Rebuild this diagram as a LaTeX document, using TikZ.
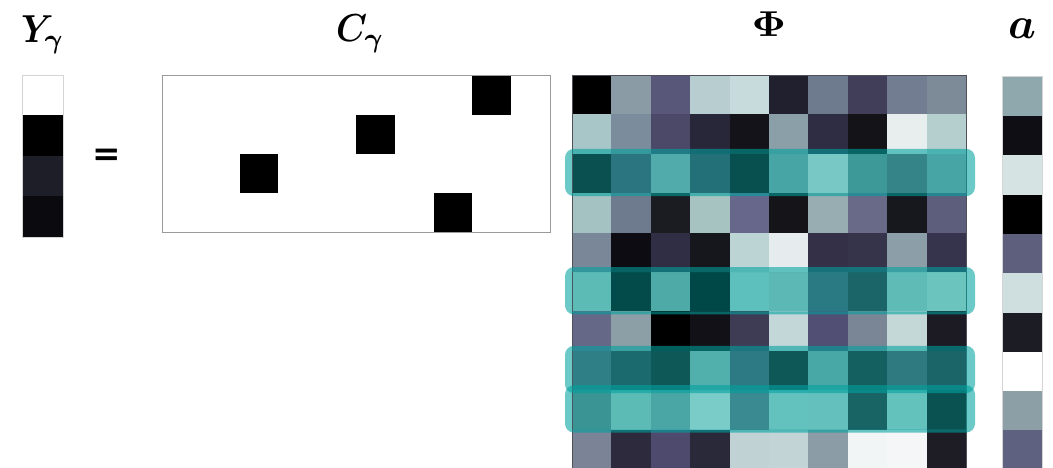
\documentclass[tikz,border=0pt]{standalone}
\usepackage{amsmath,bm}
\usepackage[no-math]{fontspec}
\newfontfamily\eqfont{DejaVu Sans}
\definecolor{hl}{HTML}{00A29F}
\definecolor{phiframe}{HTML}{505058}
\definecolor{vecframe}{HTML}{D4D4D4}
\definecolor{cframe}{HTML}{9A9A9A}
\tikzset{
  lbl/.style={inner sep=0pt, outer sep=0pt},
  hlband/.style={fill=hl, fill opacity=0.58, even odd rule},
}
\begin{document}
\begin{tikzpicture}[x=1pt,y=-1pt]
\useasboundingbox (0,0) rectangle (1053,468);
\fill[white] (0,0) rectangle (1053,468);

% ---- labels ----
\node[lbl, anchor=base west] (ylab) at (21,43) {\scalebox{3.5}[3.9]{$\bm{Y}_{\bm{\gamma}}$}};
\node[lbl, anchor=base west] (clab) at (336,42) {\scalebox{3.5}[3.9]{$\bm{C}_{\bm{\gamma}}$}};
\node[lbl, anchor=base] (philab) at (769,37) {\scalebox{4.1}[3.6]{$\mathbf{\Phi}$}};
\node[lbl, anchor=base] (alab) at (1022,39) {\scalebox{4.4}{$\bm{a}$}};
\node[lbl, font=\eqfont\bfseries\fontsize{34}{34}\selectfont] (eq) at (107,157) {=};

% ---- Y vector ----
\foreach \hx [count=\k from 0] in {FFFFFF,000000,1E1E28,0B0B0F} {
  \definecolor{cc}{HTML}{\hx}
  \fill[cc] (22,{75+\k*40.5}) rectangle (63,{75+(\k+1)*40.5+0.3});
}
\draw[vecframe, line width=0.8pt] (22,75) rectangle (63,237);

% ---- C matrix ----
\draw[cframe, line width=1pt] (162,76) rectangle (550,232);
\foreach \cx/\cy in {2/2,5/1,8/0,7/3} {
  \fill[black] ({162+\cx*38.8},{76+\cy*39}) rectangle ++(38.8,39);
}

% ---- Phi matrix ----
\foreach \rowlist [count=\r from 0] in {
 {000000,8A9BA5,58577A,B8CDD0,C7DADC,21202E,6E7A8E,403E58,737D92,7D8B98},
 {A8C6C7,7B8D9C,4B4868,28273A,131319,8A9FA8,2F2D44,131318,E8EEEE,B5CFCE},
 {0A5050,2A7580,50ABAA,247078,085050,48A5A5,78C8C5,3D9898,358488,48A5A5},
 {A5C2C3,6E7A8E,1B1B22,A6C3C2,66678A,141419,98ADB2,686A88,17171E,5C5E7C},
 {7A8799,0C0C12,302E44,16161D,BCD4D4,E6ECED,333048,36344A,8C9EA8,36344C},
 {5CBBB5,034B4B,4EAAA6,004848,5EC0BC,5CB8B4,2A7A84,1B6468,5EBBB5,6CC4BE},
 {656886,8C9EA6,000000,111117,3E3C54,C3D6D8,514F73,7A8696,C5D8D8,1C1B24},
 {2F8086,1B6A6E,0E5858,52B0AC,2D7A84,0E5858,48A8A6,146060,2E7A80,1B6468},
 {3A9494,5CBCB5,4AA6A4,7ACCC8,3A8A92,64C2BE,64C0BC,186464,64C2BC,0A5252},
 {7A8496,2C2A3C,4D4A6E,2A2939,C0D2D4,C2D4D6,8C9CA6,F2F5F6,F4F6F8,1E1D26}} {
  \foreach \hx [count=\k from 0] in \rowlist {
    \definecolor{cc}{HTML}{\hx}
    \fill[cc] ({572+\k*39.4},{75+\r*39.4}) rectangle ++(39.8,39.8);
  }
}
\draw[phiframe, line width=0.8pt] (572,75) rectangle (966,472);

% highlight bands
\foreach \r in {2,5,7,8} {
  \fill[hlband] [rounded corners=9pt] (565,{75+\r*39.4-5}) rectangle (975,{75+(\r+1)*39.4+3})
    [sharp corners] (572,{75+\r*39.4}) rectangle (966,{75+(\r+1)*39.4});
}

% ---- a vector ----
\foreach \hx [count=\k from 0] in {8FA8AE,0E0E14,D5E3E3,000000,5E5F7D,CFDFE0,1C1C24,FFFFFF,8C9EA6,5E6280} {
  \definecolor{cc}{HTML}{\hx}
  \fill[cc] (1002,{76.7+\k*39.3}) rectangle (1042,{76.7+(\k+1)*39.3+0.3});
}
\draw[vecframe, line width=0.8pt] (1002,76.7) rectangle (1042,472);
\end{tikzpicture}
\end{document}
